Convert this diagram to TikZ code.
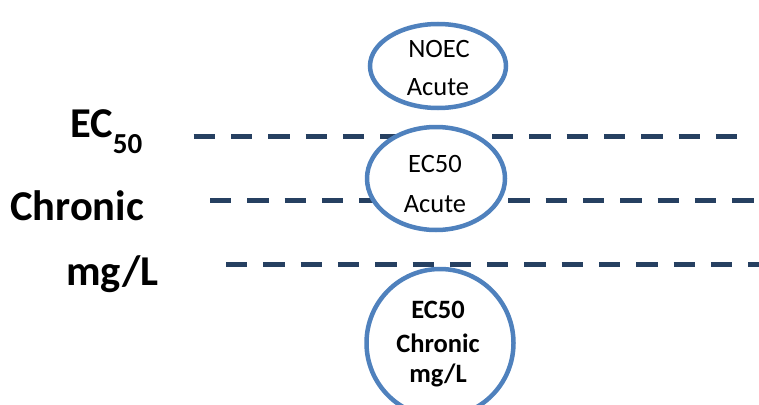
\documentclass[tikz,border=0pt]{standalone}
\usepackage{fontspec}
\setmainfont{Carlito}
\usetikzlibrary{shapes.geometric}
\definecolor{dashnavy}{RGB}{38,64,97}
\definecolor{ringblue}{RGB}{79,129,189}
\begin{document}
\begin{tikzpicture}[x=1pt,y=-1pt,
  guide/.style={draw=dashnavy, line width=5pt, dash pattern=on 21.3pt off 16pt},
  ring/.style={ellipse, draw=ringblue, line width=4.5pt, fill=white, inner sep=0pt},
  ringtext/.style={anchor=base, font=\fontsize{26.5}{30}\selectfont, inner sep=0pt},
  boldtext/.style={anchor=base, font=\bfseries\fontsize{26.5}{30}\selectfont, inner sep=0pt},
  sidelabel/.style={anchor=base west, font=\bfseries\fontsize{42.5}{48}\selectfont, inner sep=0pt}]
\useasboundingbox (0,0) rectangle (759,404);
\clip (0,0) rectangle (759,404);

% dashed reference levels
\coordinate (g1s) at (193.7,136.7); \coordinate (g1e) at (737.7,136.7);
\coordinate (g2s) at (210,200.3);   \coordinate (g2e) at (754,200.3);
\coordinate (g3s) at (226,264.3);   \coordinate (g3e) at (790,264.3);
\draw[guide] (g1s) -- (g1e);
\draw[guide] (g2s) -- (g2e);
\draw[guide] (g3s) -- (g3e);

% side labels
\node[sidelabel] (lec) at (70,137) {EC\raisebox{-16pt}{\fontsize{29}{30}\selectfont 50}};
\node[sidelabel] (lchronic) at (10,220) {Chronic};
\node[sidelabel] (lmgl) at (66,285) {mg/L};

% rings
\node[ring, minimum width=136pt, minimum height=84pt] (noec) at (438,66) {};
\node[ring, minimum width=138pt, minimum height=103pt] (ecacute) at (436,178.5) {};
\node[ring, minimum width=147pt, minimum height=148pt] (ecchronic) at (440,343) {};

% ring texts
\node[ringtext] (t1a) at (439,57) {NOEC};
\node[ringtext] (t1b) at (438,95) {Acute};
\node[ringtext] (t2a) at (435,172) {EC50};
\node[ringtext] (t2b) at (435,212) {Acute};
\node[boldtext] (t3a) at (438,318) {EC50};
\node[boldtext] (t3b) at (438,352) {Chronic};
\node[boldtext] (t3c) at (438,382) {mg/L};
\end{tikzpicture}
\end{document}
